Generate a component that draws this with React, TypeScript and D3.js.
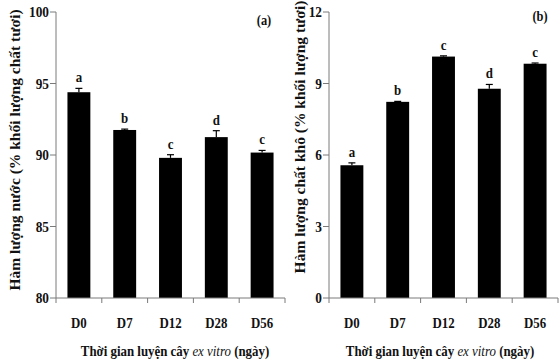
import React from "react";
import * as d3 from "d3";

const categories = ["D0", "D7", "D12", "D28", "D56"];
const waterValues = [94.39, 91.75, 89.8, 91.25, 90.17];
const waterErrors = [0.27, 0.06, 0.22, 0.45, 0.15];
const waterLetters = ["a", "b", "c", "d", "c"];
const waterTicks = [80, 85, 90, 95, 100];

const dryValues = [5.57, 8.23, 10.13, 8.78, 9.83];
const dryErrors = [0.1, 0.02, 0.03, 0.18, 0.03];
const dryLetters = ["a", "b", "c", "d", "c"];
const dryTicks = [0, 3, 6, 9, 12];

const FONT = "'Liberation Serif', 'Times New Roman', serif";
const SX = 0.86;

function T({ x, y, size, bold = true, anchor = "middle", children, rotate = 0, sx = SX, fill = "#111" }: any) {
  return (
    <text
      transform={`translate(${x},${y}) rotate(${rotate}) scale(${sx},1)`}
      fontFamily={FONT}
      fontSize={size}
      fontWeight={bold ? "bold" : "normal"}
      textAnchor={anchor}
      fill={fill}
    >
      {children}
    </text>
  );
}

function Panel({ x0, x1, yDomain, ticks, values, errors, letters, yTitle, tag, tagX, tagY, titleX, titleY, xTitleX }: any) {
  const x = d3.scaleBand<string>().domain(categories).range([x0, x1]).paddingInner(0.5).paddingOuter(0.25);
  const y = d3.scaleLinear().domain(yDomain).range([298, 12]);
  const step = x.step();
  const axisColor = "#7a7a7a";
  return (
    <g>
      {categories.map((c, i) => {
        const bx = x(c)!;
        const top = y(values[i]);
        const et = y(values[i] + errors[i]);
        const cx = bx + x.bandwidth() / 2;
        return (
          <g key={c}>
            <rect x={bx} y={top} width={x.bandwidth()} height={y(yDomain[0]) - top} fill="#000" />
            <line x1={cx} x2={cx} y1={top} y2={et} stroke="#000" strokeWidth={1.2} />
            <line x1={cx - 3.5} x2={cx + 3.5} y1={et} y2={et} stroke="#000" strokeWidth={1.2} />
            <T x={cx} y={et - 6} size={15}>{letters[i]}</T>
            <T x={cx} y={328} size={15}>{c}</T>
          </g>
        );
      })}
      <line x1={x0} x2={x0} y1={y(yDomain[1])} y2={y(yDomain[0])} stroke={axisColor} strokeWidth={1} />
      {ticks.map((t: number) => (
        <g key={t}>
          <line x1={x0 - 6} x2={x0} y1={y(t)} y2={y(t)} stroke={axisColor} strokeWidth={1} />
          <T x={x0 - 7} y={y(t) + 5} size={15.5} anchor="end">{String(t)}</T>
        </g>
      ))}
      <line x1={x0} x2={x1} y1={298} y2={298} stroke={axisColor} strokeWidth={1} />
      {d3.range(categories.length + 1).map((i) => (
        <line key={i} x1={x0 + i * step} x2={x0 + i * step} y1={298} y2={303} stroke={axisColor} strokeWidth={1} />
      ))}
      <T x={titleX} y={titleY} size={15.5} sx={1} rotate={-90}>{yTitle}</T>
      <text
        transform={`translate(${xTitleX},356) scale(${SX},1)`}
        fontFamily={FONT}
        fontSize={15}
        fontWeight="bold"
        textAnchor="middle"
        fill="#111"
      >
        Thời gian luyện cây <tspan fontStyle="italic" fontWeight="normal">ex vitro</tspan> (ngày)
      </text>
      <T x={tagX} y={tagY} size={14.5}>{tag}</T>
    </g>
  );
}

export default function App() {
  return (
    <svg width={560} height={361} style={{ display: "block", position: "absolute", left: 0, top: 0 }}>
      <rect width={560} height={361} fill="#fff" />
      <Panel
        x0={56}
        x1={285}
        yDomain={[80, 100]}
        ticks={waterTicks}
        values={waterValues}
        errors={waterErrors}
        letters={waterLetters}
        yTitle="Hàm lượng nước (% khối lượng chất tươi)"
        tag="(a)"
        tagX={264}
        tagY={25}
        titleX={20}
        titleY={150}
        xTitleX={175}
      />
      <Panel
        x0={329}
        x1={558}
        yDomain={[0, 12]}
        ticks={dryTicks}
        values={dryValues}
        errors={dryErrors}
        letters={dryLetters}
        yTitle="Hàm lượng chất khô (% khối lượng tươi)"
        tag="(b)"
        tagX={540}
        tagY={21}
        titleX={305}
        titleY={137}
        xTitleX={440}
      />
    </svg>
  );
}
